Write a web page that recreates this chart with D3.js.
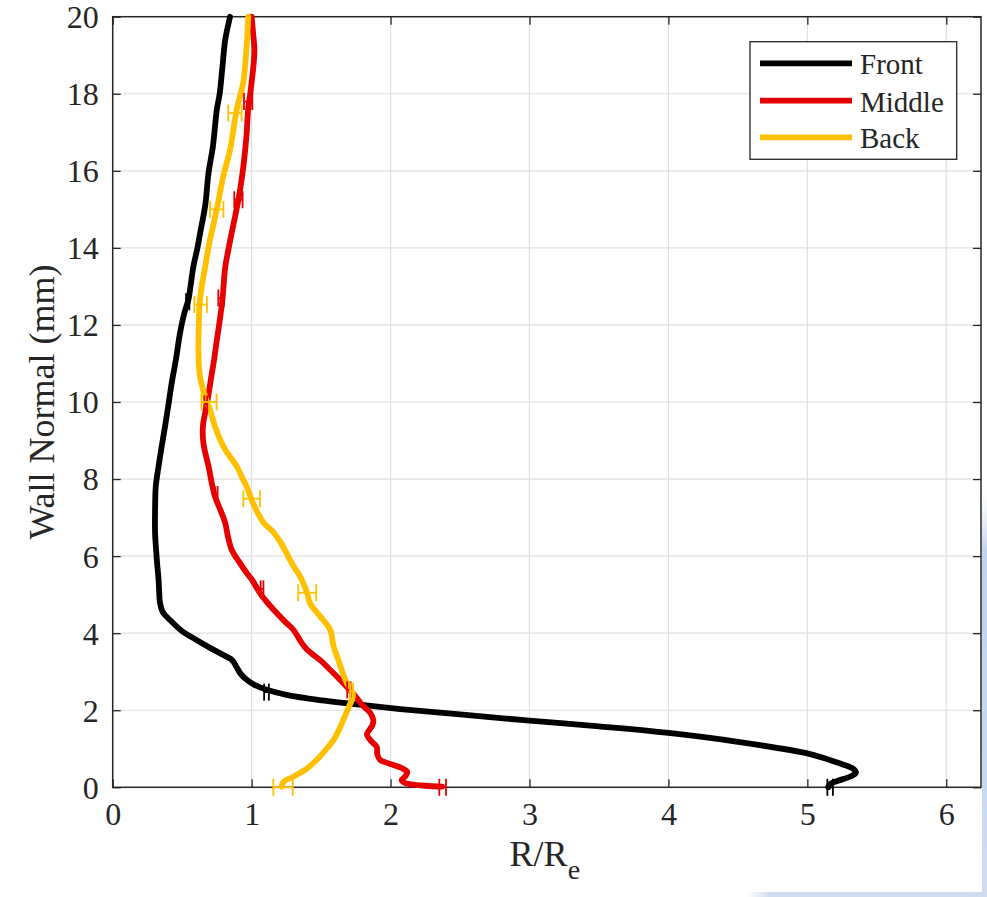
<!DOCTYPE html>
<html>
<head>
<meta charset="utf-8">
<script src="https://cdn.jsdelivr.net/npm/d3@7"></script>
<style>
  html, body { margin: 0; padding: 0; background: #fff; }
  svg { display: block; }
  text { font-family: "Liberation Serif", "Times New Roman", serif; fill: #262626; }
</style>
</head>
<body>
<script>
// ---------------- data ----------------
const xTicks = [0, 1, 2, 3, 4, 5, 6];
const yTicks = [0, 2, 4, 6, 8, 10, 12, 14, 16, 18, 20];
const seriesNames = ["Front", "Middle", "Back"];
const seriesColors = ["#000000", "#e60000", "#ffc000"];

// Front (black): R/Re vs wall-normal (mm)
const frontX = [5.15, 5.16, 5.22, 5.31, 5.35, 5.33, 5.25, 5.15, 5.0, 4.5, 4.0, 3.5, 3.0, 2.5, 2.07, 1.71, 1.40, 1.25, 1.11, 1.02, 0.965, 0.92, 0.89, 0.86, 0.82, 0.72, 0.60, 0.50, 0.41, 0.36, 0.34, 0.335, 0.33, 0.32, 0.305, 0.305, 0.31, 0.33, 0.355, 0.377, 0.40, 0.425, 0.455, 0.485, 0.515, 0.545, 0.56, 0.58, 0.61, 0.63, 0.665, 0.69, 0.72, 0.75, 0.77, 0.79, 0.81, 0.845];
const frontY = [0.0, 0.08, 0.17, 0.28, 0.38, 0.48, 0.60, 0.72, 0.88, 1.18, 1.41, 1.58, 1.73, 1.89, 2.03, 2.17, 2.31, 2.40, 2.53, 2.66, 2.79, 2.95, 3.13, 3.30, 3.39, 3.58, 3.83, 4.05, 4.35, 4.55, 4.8, 5.05, 5.4, 5.8, 6.6, 7.2, 7.8, 8.33, 8.9, 9.37, 9.9, 10.5, 11.1, 11.8, 12.3, 12.66, 13.0, 13.5, 14.0, 14.4, 15.08, 15.95, 16.6, 17.6, 18.0, 18.7, 19.4, 20.0];

// Middle (red)
const middleX = [2.37, 2.25, 2.14, 2.10, 2.08, 2.11, 2.12, 2.08, 2.02, 1.97, 1.925, 1.905, 1.90, 1.86, 1.83, 1.85, 1.87, 1.876, 1.85, 1.80, 1.75, 1.70, 1.64, 1.565, 1.50, 1.44, 1.40, 1.36, 1.30, 1.24, 1.16, 1.10, 1.06, 1.0, 0.965, 0.91, 0.857, 0.83, 0.81, 0.775, 0.736, 0.71, 0.69, 0.665, 0.65, 0.65, 0.67, 0.69, 0.71, 0.73, 0.75, 0.77, 0.79, 0.81, 0.835, 0.857, 0.88, 0.905, 0.925, 0.94, 0.955, 0.965, 0.975, 0.99, 1.0, 1.015, 1.02, 1.01, 1.0];
const middleY = [0.02, 0.04, 0.085, 0.12, 0.19, 0.30, 0.40, 0.50, 0.58, 0.64, 0.71, 0.85, 1.05, 1.2, 1.38, 1.5, 1.62, 1.75, 1.95, 2.12, 2.35, 2.55, 2.78, 3.05, 3.28, 3.45, 3.57, 3.75, 4.09, 4.30, 4.6, 4.85, 5.04, 5.40, 5.56, 5.85, 6.16, 6.5, 6.86, 7.2, 7.55, 7.95, 8.33, 8.7, 9.02, 9.4, 9.8, 10.2, 10.66, 11.1, 11.62, 12.1, 12.66, 13.5, 14.0, 14.4, 14.8, 15.25, 15.7, 16.1, 16.6, 17.0, 17.6, 18.0, 18.3, 18.8, 19.15, 19.6, 20.0];

// Back (yellow)
const backX = [1.215, 1.23, 1.30, 1.40, 1.45, 1.49, 1.54, 1.59, 1.63, 1.66, 1.70, 1.73, 1.685, 1.64, 1.615, 1.59, 1.565, 1.49, 1.42, 1.40, 1.35, 1.30, 1.264, 1.21, 1.15, 1.09, 1.04, 1.0, 0.965, 0.93, 0.893, 0.81, 0.77, 0.736, 0.70, 0.665, 0.628, 0.617, 0.62, 0.628, 0.665, 0.70, 0.749, 0.796, 0.845, 0.893, 0.94, 0.965, 0.976];
const backY = [0.015, 0.145, 0.275, 0.49, 0.65, 0.795, 1.0, 1.23, 1.5, 1.75, 2.09, 2.40, 2.70, 3.13, 3.4, 3.65, 4.09, 4.45, 4.78, 5.04, 5.47, 5.75, 5.99, 6.35, 6.65, 6.85, 7.15, 7.46, 7.8, 8.05, 8.33, 8.76, 9.05, 9.37, 9.8, 10.15, 10.66, 11.36, 12.0, 12.66, 13.5, 14.2, 15.0, 15.86, 16.55, 17.6, 18.3, 19.3, 20.0];

// Horizontal error bars (centre x, y, half-width)
const frontErrX = [5.164, 1.107, 0.54];
const frontErrY = [0.0, 2.47, 12.6];
const frontErrE = [0.02, 0.017, 0.012];

const middleErrX = [2.375, 1.70, 1.075, 0.745, 0.67, 0.78, 0.905, 0.975];
const middleErrY = [0.0, 2.53, 5.15, 7.6, 9.95, 12.7, 15.25, 17.8];
const middleErrE = [0.024, 0.012, 0.01, 0.01, 0.01, 0.02, 0.03, 0.03];

const backErrX = [1.226, 1.72, 1.40, 1.0, 0.693, 0.633, 0.749, 0.88];
const backErrY = [0.0, 2.5, 5.05, 7.49, 10.0, 12.53, 15.0, 17.5];
const backErrE = [0.07, 0.01, 0.065, 0.06, 0.055, 0.045, 0.048, 0.048];

// ---------------- layout ----------------
const W = 987, H = 897;
const mL = 112.7, mR = 981, mT = 16.7, mB = 787.3;

const svg = d3.select("body").append("svg").attr("width", W).attr("height", H);

// background artifact (light blue page edges)
const defs = svg.append("defs");
const gR = defs.append("linearGradient").attr("id", "gR").attr("x1", 0).attr("y1", 0).attr("x2", 0).attr("y2", 1);
gR.append("stop").attr("offset", "0").attr("stop-color", "#dfe7f4").attr("stop-opacity", 0);
gR.append("stop").attr("offset", "0.15").attr("stop-color", "#c3d3ec");
gR.append("stop").attr("offset", "1").attr("stop-color", "#cfdcf0");
const gB = defs.append("linearGradient").attr("id", "gB").attr("x1", 0).attr("y1", 0).attr("x2", 1).attr("y2", 0);
gB.append("stop").attr("offset", "0").attr("stop-color", "#dfe7f4").attr("stop-opacity", 0);
gB.append("stop").attr("offset", "0.1").attr("stop-color", "#cfdcf0");
gB.append("stop").attr("offset", "1").attr("stop-color", "#cfdcf0");
svg.append("rect").attr("x", 982).attr("y", 490).attr("width", 5).attr("height", 407).attr("fill", "url(#gR)");
svg.append("rect").attr("x", 745).attr("y", 892).attr("width", 242).attr("height", 5).attr("fill", "url(#gB)");

const x = d3.scaleLinear().domain([0, 6.25]).range([mL, mR]);
const y = d3.scaleLinear().domain([0, 20]).range([mB, mT]);

// plot background
svg.append("rect").attr("x", mL).attr("y", mT).attr("width", mR - mL).attr("height", mB - mT).attr("fill", "#fff");

// grid
const grid = svg.append("g");
grid.selectAll("line.gx").data(xTicks).join("line")
  .attr("x1", d => x(d)).attr("x2", d => x(d)).attr("y1", mT).attr("y2", mB)
  .attr("stroke", "#e0e0e0").attr("stroke-width", 1.2);
grid.selectAll("line.gy").data(yTicks).join("line")
  .attr("y1", d => y(d)).attr("y2", d => y(d)).attr("x1", mL).attr("x2", mR)
  .attr("stroke", "#e0e0e0").attr("stroke-width", 1.2);

// axes with inward ticks on all sides
const tl = 8;
const axB = svg.append("g").attr("transform", `translate(0,${mB})`)
  .call(d3.axisBottom(x).tickValues(xTicks).tickSize(-tl).tickPadding(14).tickFormat(d3.format("d")));
const axT = svg.append("g").attr("transform", `translate(0,${mT})`)
  .call(d3.axisTop(x).tickValues(xTicks).tickSize(-tl).tickFormat(""));
const axL = svg.append("g").attr("transform", `translate(${mL},0)`)
  .call(d3.axisLeft(y).tickValues(yTicks).tickSize(-tl).tickPadding(14).tickFormat(d3.format("d")));
const axR = svg.append("g").attr("transform", `translate(${mR},0)`)
  .call(d3.axisRight(y).tickValues(yTicks).tickSize(-tl).tickFormat(""));
[axB, axT, axL, axR].forEach(a => {
  a.select(".domain").remove();
  a.selectAll(".tick line").attr("stroke", "#262626").attr("stroke-width", 1.3);
  a.selectAll(".tick text").attr("fill", "#262626")
    .style("font-family", '"Liberation Serif", "Times New Roman", serif').style("font-size", "32px");
});
axB.selectAll(".tick text").attr("dy", "0.74em");
axL.selectAll(".tick text").attr("dy", "0.34em");

// box
svg.append("rect").attr("x", mL).attr("y", mT).attr("width", mR - mL).attr("height", mB - mT)
  .attr("fill", "none").attr("stroke", "#262626").attr("stroke-width", 1.5);

// curves
const series = [
  { name: seriesNames[0], color: seriesColors[0], xs: frontX, ys: frontY, ex: frontErrX, ey: frontErrY, ee: frontErrE },
  { name: seriesNames[1], color: seriesColors[1], xs: middleX, ys: middleY, ex: middleErrX, ey: middleErrY, ee: middleErrE },
  { name: seriesNames[2], color: seriesColors[2], xs: backX, ys: backY, ex: backErrX, ey: backErrY, ee: backErrE }
];

const line = d3.line().x(d => x(d[0])).y(d => y(d[1])).curve(d3.curveCatmullRom.alpha(0.5));
const plotG = svg.append("g");
series.forEach(s => {
  const pts = s.xs.map((v, i) => [v, s.ys[i]]);
  plotG.append("path").attr("d", line(pts)).attr("fill", "none")
    .attr("stroke", s.color).attr("stroke-width", 5.8)
    .attr("stroke-linejoin", "round").attr("stroke-linecap", "round");
});

// error bars
const capH = 8.5;
series.forEach(s => {
  const g = plotG.append("g").attr("stroke", s.color).attr("stroke-width", 1.8).attr("fill", "none");
  s.ex.forEach((cx, i) => {
    const yy = y(s.ey[i]);
    const x0 = x(cx - s.ee[i]), x1 = x(cx + s.ee[i]);
    g.append("line").attr("x1", x0).attr("x2", x1).attr("y1", yy).attr("y2", yy);
    g.append("line").attr("x1", x0).attr("x2", x0).attr("y1", yy - capH).attr("y2", yy + capH);
    g.append("line").attr("x1", x1).attr("x2", x1).attr("y1", yy - capH).attr("y2", yy + capH);
  });
});

// axis labels
const xl = svg.append("text").attr("x", (mL + mR) / 2 - 2).attr("y", 866)
  .attr("text-anchor", "middle").style("font-size", "36px").attr("fill", "#262626");
xl.append("tspan").text("R/R");
xl.append("tspan").text("e").attr("dy", 13).style("font-size", "28px");

svg.append("text").attr("transform", `translate(54,${(mT + mB) / 2}) rotate(-90)`)
  .attr("text-anchor", "middle").style("font-size", "36px").attr("fill", "#262626")
  .text("Wall Normal (mm)");

// legend
const lg = svg.append("g");
lg.append("rect").attr("x", 750).attr("y", 41.7).attr("width", 206.7).attr("height", 117.6)
  .attr("fill", "#fff").attr("stroke", "#262626").attr("stroke-width", 1.3);
const legY = [63.3, 100.7, 137.3];
series.forEach((s, i) => {
  lg.append("line").attr("x1", 760).attr("x2", 852).attr("y1", legY[i]).attr("y2", legY[i])
    .attr("stroke", s.color).attr("stroke-width", 5.8);
  lg.append("text").attr("x", 860).attr("y", legY[i] + 11).style("font-size", "29px")
    .attr("fill", "#000").text(s.name);
});
</script>
</body>
</html>
